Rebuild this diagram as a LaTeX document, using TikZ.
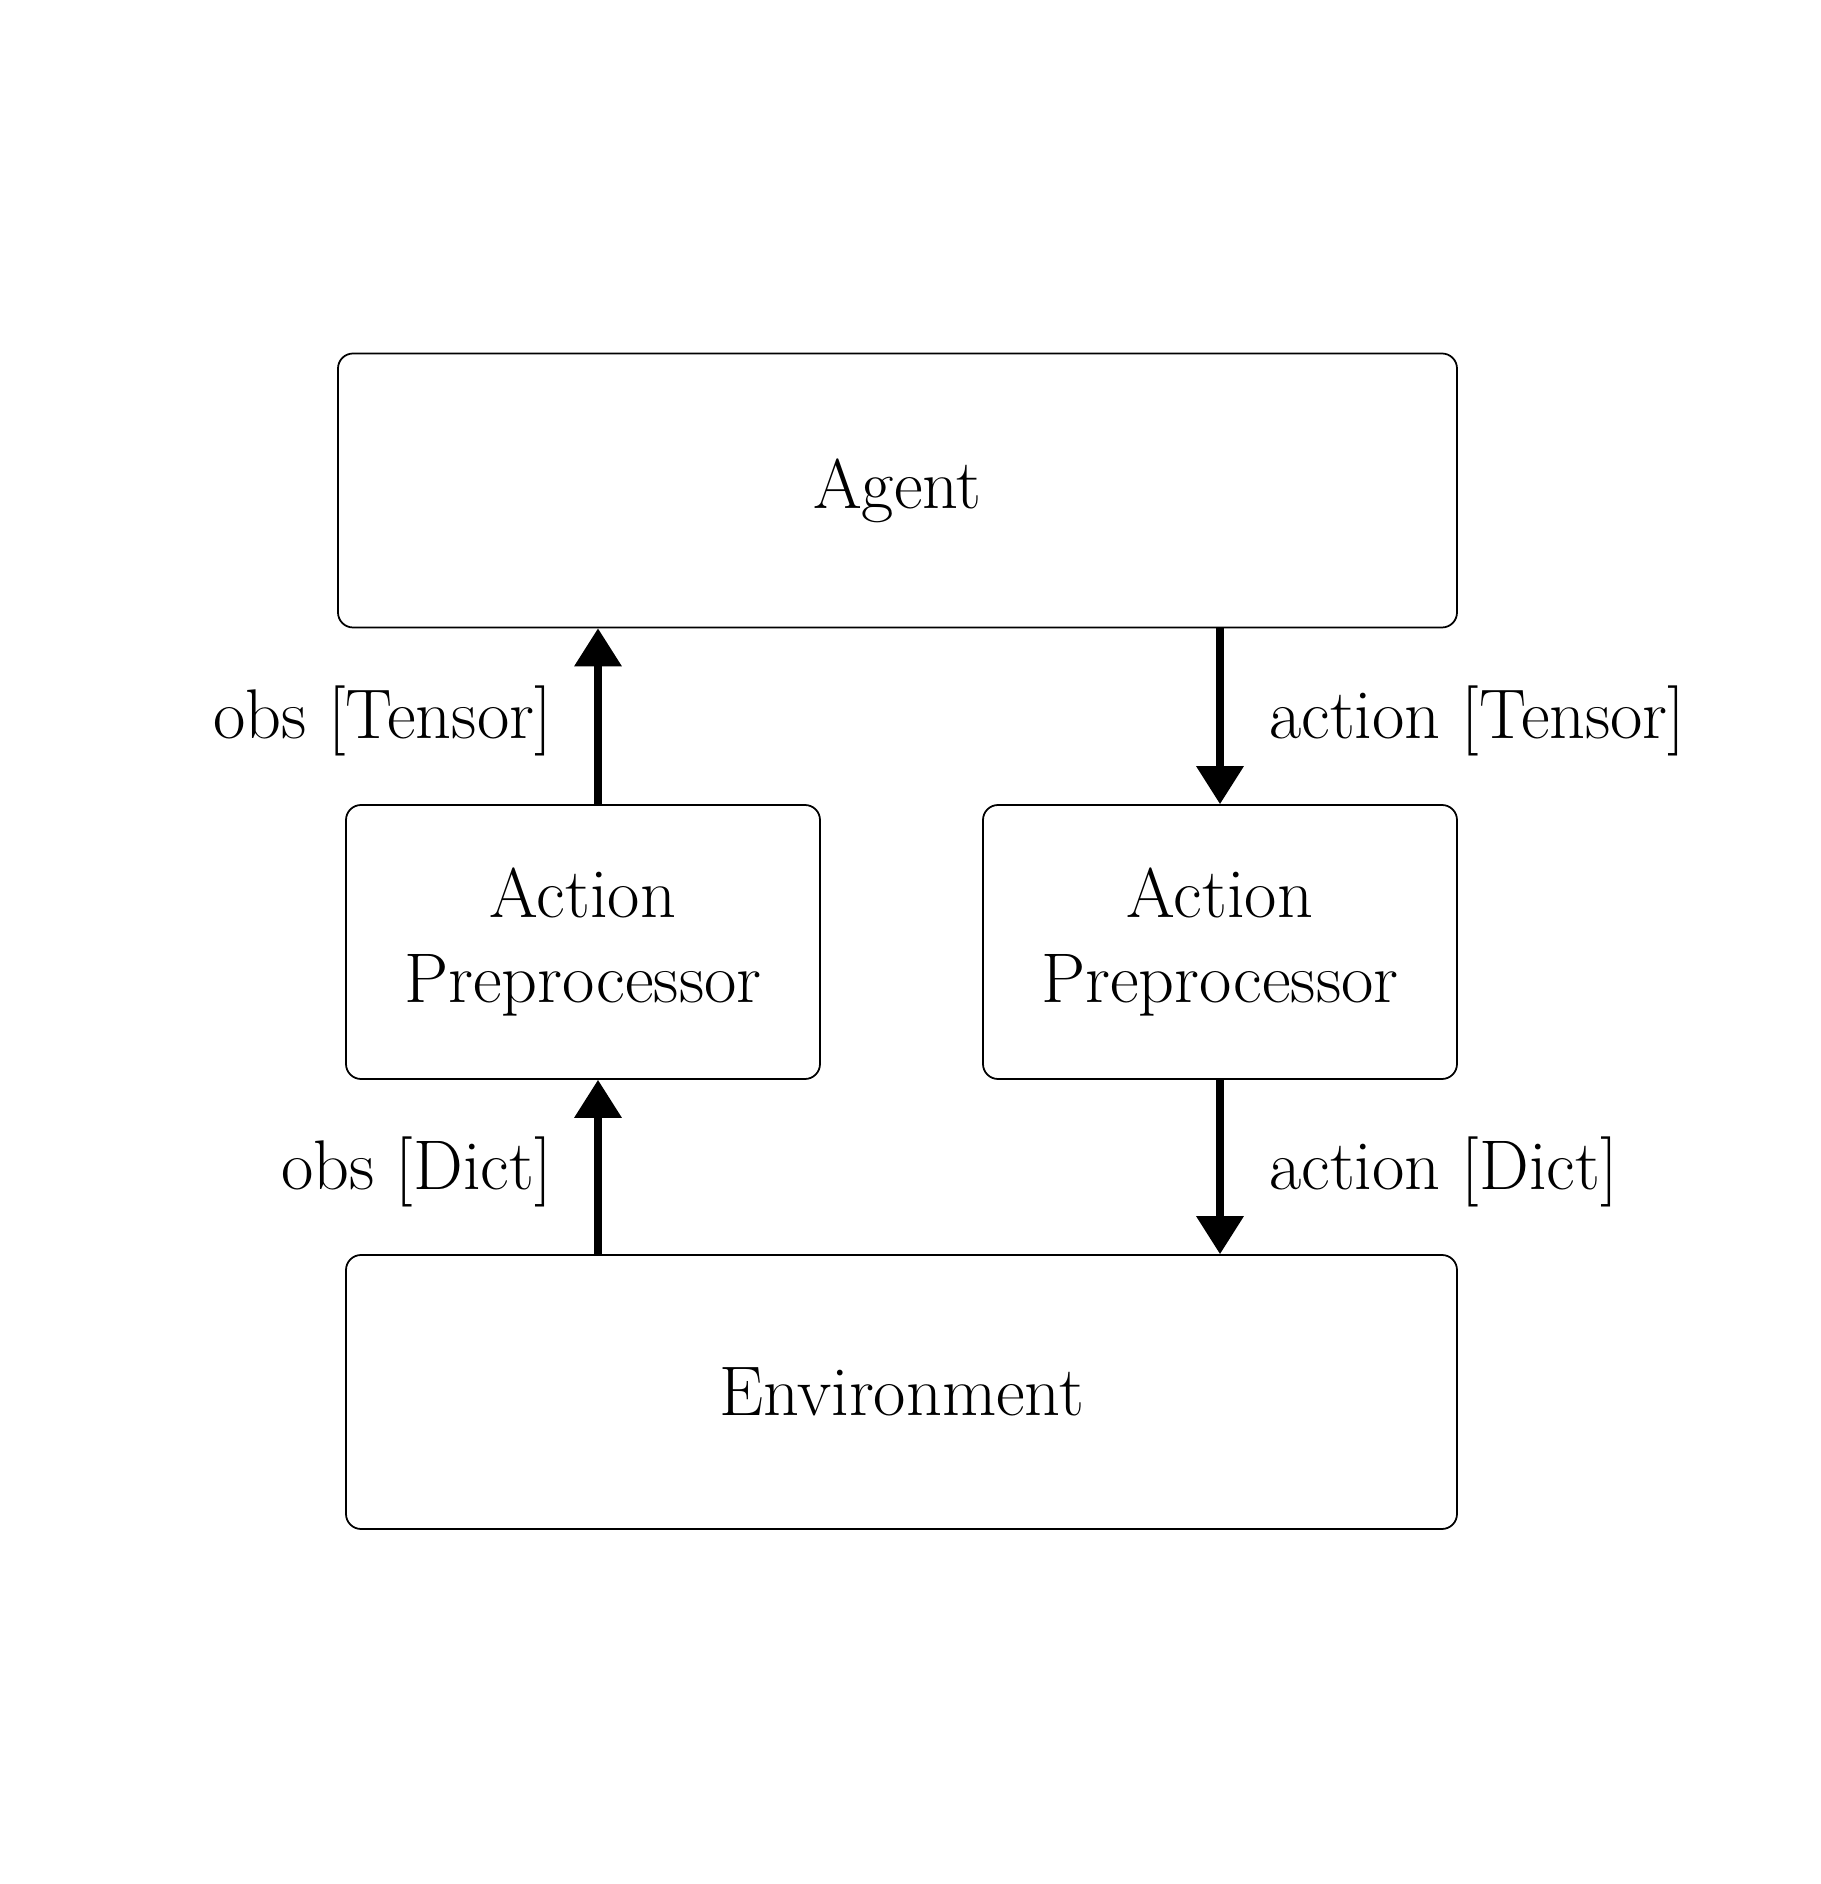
\documentclass[tikz,border=0pt]{standalone}
\usetikzlibrary{arrows.meta}
\tikzset{
  block/.style={draw, rounded corners=1.5mm, line width=0.5pt, align=center, inner sep=0pt, minimum height=2.74cm},
  flow/.style={line width=2pt, -{Triangle[length=3.8mm,width=4.6mm]}},
  tag/.style={yshift=-0.5mm},
}
\begin{document}
\begin{tikzpicture}[font=\fontsize{20}{24.3}\selectfont]
\useasboundingbox (0,0) rectangle (18.2,18.84);
\node[block,minimum width=11.19cm] (agent) at (8.975,13.935) {Agent};
\node[block,minimum width=4.74cm] (obspre) at (5.83,9.42) {Action\\Preprocessor};
\node[block,minimum width=4.74cm] (actpre) at (12.20,9.42) {Action\\Preprocessor};
\node[block,minimum width=11.11cm] (env) at (9.015,4.92) {Environment};
% observation path (left)
\coordinate (obsx) at (5.98,0);
\draw[flow] (env.north -| obsx) -- node[tag,left=3.1mm] {obs [Dict]} (obspre.south -| obsx);
\draw[flow] (obspre.north -| obsx) -- node[tag,left=3.1mm] {obs [Tensor]} (agent.south -| obsx);
% action path (right)
\coordinate (actx) at (12.20,0);
\draw[flow] (agent.south -| actx) -- node[tag,right=3.4mm] {action [Tensor]} (actpre.north -| actx);
\draw[flow] (actpre.south -| actx) -- node[tag,right=3.4mm] {action [Dict]} (env.north -| actx);
\end{tikzpicture}
\end{document}
